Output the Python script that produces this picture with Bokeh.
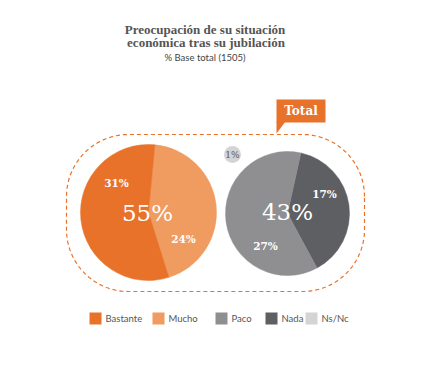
import numpy as np
from bokeh.plotting import figure
from bokeh.models import Range1d, ColumnDataSource
from bokeh.core.properties import value
from bokeh.embed import file_html
from bokeh.resources import INLINE

# ---------------- data ----------------
title_lines = ["Preocupación de su situación", "económica tras su jubilación"]
subtitle = "% Base total (1505)"
group_label = "Total"
categories = ["Bastante", "Mucho", "Paco", "Nada", "Ns/Nc"]
colors = ["#E8722A", "#F09B5F", "#8F8F91", "#5E5F63", "#D4D4D6"]
left_cats = ["Mucho", "Bastante"]
left_values = [24, 31]
left_total = 55
right_cats = ["Nada", "Paco"]
right_values = [17, 27]
right_total = 43
nsnc_value = 1

# ---------------- layout ----------------
W, H = 424, 356
def Y(yp):
    return 372 - yp

p = figure(width=W, height=H, x_range=Range1d(8, 432), y_range=Range1d(8, 364),
           output_backend="svg", toolbar_location=None, min_border=0,
           x_axis_type=None, y_axis_type=None)
p.grid.visible = False
p.outline_line_color = None
p.background_fill_color = "white"
p.border_fill_color = "white"

cmap = dict(zip(categories, colors))
SERIF = value("DejaVu Serif")
SANS = value("Lato")

# dashed rounded frame
def rounded_rect(x0, x1, y0, y1, r, n=40):
    xs, ys = [], []
    for cx, cy, a0, a1 in [(x1 - r, y1 - r, 0, 90), (x0 + r, y1 - r, 90, 180),
                           (x0 + r, y0 + r, 180, 270), (x1 - r, y0 + r, 270, 360)]:
        t = np.radians(np.linspace(a0, a1, n))
        xs += list(cx + r * np.cos(t))
        ys += list(cy + r * np.sin(t))
    xs.append(xs[0]); ys.append(ys[0])
    return xs, ys

fx, fy = rounded_rect(74, 372, Y(299), Y(142), 62)
p.line(fx, fy, line_color="#E8722A", line_width=1.2, line_dash="4 3")

# pies
def pie(vals, cats, cx, cy, r, mid_deg):
    fr = np.array(vals, dtype=float) / sum(vals) * 2 * np.pi
    start0 = np.radians(mid_deg) - fr[0] / 2
    ends = start0 + np.cumsum(fr)
    starts = ends - fr
    src = ColumnDataSource(dict(x=[cx] * len(vals), y=[cy] * len(vals),
                                s=starts, e=ends, c=[cmap[k] for k in cats]))
    p.wedge(x="x", y="y", radius=r, start_angle="s", end_angle="e",
            fill_color="c", line_color="c", line_width=0.5, source=src)

pie(left_values, left_cats, 156, Y(220), 68, 6)
pie(right_values, right_cats, 295, Y(221), 62, 8)

# Ns/Nc bubble
p.scatter([240], [Y(162)], size=17, marker="circle", fill_color=cmap["Ns/Nc"], line_color=None)
p.text([240], [Y(162)], text=[f"{nsnc_value}%"], text_font=SERIF, text_font_size="9px",
       text_color="#555555", text_align="center", text_baseline="middle")

# pie labels
small = ColumnDataSource(dict(
    x=[124, 191, 273, 332],
    y=[Y(190), Y(246), Y(253), Y(201)],
    t=[f"{left_values[1]}%", f"{left_values[0]}%", f"{right_values[1]}%", f"{right_values[0]}%"]))
p.text(x="x", y="y", text="t", source=small, text_font=SERIF, text_font_size="10.5px",
       text_font_style="bold", text_color="white", text_align="center", text_baseline="middle")
big = ColumnDataSource(dict(x=[155, 295], y=[Y(220), Y(219)],
                            t=[f"{left_total}%", f"{right_total}%"]))
p.text(x="x", y="y", text="t", source=big, text_font=SERIF, text_font_size="23px",
       text_color="white", text_align="center", text_baseline="middle")

# "Total" callout
p.quad(left=[284], right=[333], top=[Y(107)], bottom=[Y(130)], fill_color="#E8722A", line_color=None)
p.patch([284, 284, 293], [Y(129), Y(141), Y(129)], fill_color="#E8722A", line_color=None)
p.text([308.5], [Y(118.5)], text=[group_label], text_font=SERIF, text_font_size="12px",
       text_font_style="bold", text_color="white", text_align="center", text_baseline="middle")

# titles
p.text([212.5, 213.5], [Y(37), Y(50)], text=title_lines, text_font=value("Liberation Serif"),
       text_font_size="13px", text_font_style="bold", text_color="#555555",
       text_align="center", text_baseline="middle")
p.text([212.5], [Y(65)], text=[subtitle], text_font=SANS, text_font_size="9.5px",
       text_color="#444444", text_align="center", text_baseline="middle")

# legend
leg_x = [97, 160, 223, 273, 313]
lsrc = ColumnDataSource(dict(x=[v + 6 for v in leg_x], tx=[v + 16 for v in leg_x],
                             y=[Y(326)] * 5, c=colors, t=categories))
p.rect(x="x", y="y", width=12, height=12, fill_color="c", line_color=None, source=lsrc)
p.text(x="tx", y="y", text="t", source=lsrc, text_font=SANS, text_font_size="9.5px",
       text_color="#555555", text_align="left", text_baseline="middle")

open("out.html", "w").write(file_html(p, INLINE))
